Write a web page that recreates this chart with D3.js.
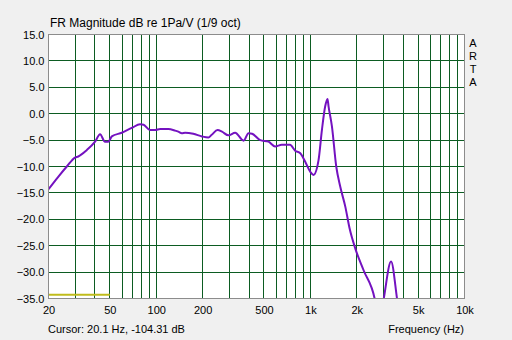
<!DOCTYPE html>
<html>
<head>
<meta charset="utf-8">
<script src="https://cdn.jsdelivr.net/npm/d3@7"></script>
<style>
  body { margin: 0; background: #f0f0f0; }
  svg { display: block; font-family: "Liberation Sans", Arial, sans-serif; }
  .tick text { fill: #000; font-size: 11px; }
</style>
</head>
<body>
<svg width="512" height="340"></svg>
<script>
// Measured response, 1/9 octave smoothing
const freqs = [20, 23.2, 26.3, 29.7, 31.2, 35.4, 40.1, 43.2, 46.5, 48.9, 51.5, 59.8, 69.4, 78.6, 82.8,
  91.2, 98.6, 106, 119.7, 132.6, 139, 146.6, 154, 174, 198, 218, 229, 250, 267, 294, 325, 369, 397,
  419, 473, 535, 590, 652, 738, 797, 860, 926, 998, 1048, 1130, 1188, 1248, 1292, 1312, 1380, 1472,
  1562, 1685, 1796, 1960, 2218, 2616, 2800, 2990, 3338, 3652, 3850];
const magDb = [-14.3, -11.9, -10.0, -8.3, -8.1, -6.9, -5.3, -3.9, -5.3, -5.3, -4.3, -3.6, -2.7, -2.0, -2.1,
  -3.1, -3.1, -2.9, -2.9, -3.2, -3.4, -3.7, -3.6, -3.8, -4.3, -4.5, -4.0, -3.1, -3.4, -4.1, -3.6, -5.1, -3.7,
  -3.8, -5.0, -5.3, -6.2, -5.9, -5.9, -7.0, -7.5, -9.1, -11.0, -11.6, -8.8, -3.1, 1.4, 2.8, 1.4, -2.4, -10.0,
  -13.8, -17.6, -21.7, -25.6, -29.7, -35.1, -40, -35.1, -28.0, -35.1, -40];

// Reference (yellow) trace
const refFreqs = [20, 50];
const refDb = [-34.3, -34.3];

const xTicks = [20, 50, 100, 200, 500, 1000, 2000, 5000, 10000];
const xTickLabels = ["20", "50", "100", "200", "500", "1k", "2k", "5k", "10k"];
const xGrid = [30, 40, 50, 60, 70, 80, 90, 100, 200, 300, 400, 500, 600, 700, 800, 900,
  1000, 2000, 3000, 4000, 5000, 6000, 7000, 8000, 9000];
const yTicks = [15, 10, 5, 0, -5, -10, -15, -20, -25, -30, -35];

const svg = d3.select("svg");

const x = d3.scaleLog().domain([20, 10000]).range([48.5, 464.5]);
const y = d3.scaleLinear().domain([-35, 15]).range([298.5, 34.5]);
const px = v => Math.round(v - 0.5) + 0.5;

// Plot background
svg.append("rect")
    .attr("x", x(20)).attr("y", y(15))
    .attr("width", x(10000) - x(20)).attr("height", y(-35) - y(15))
    .attr("fill", "#fff");

// Grid
const grid = svg.append("g").attr("stroke", "#0c5c22").attr("stroke-width", 1);
grid.selectAll(".vg").data(xGrid).enter().append("line")
    .attr("x1", d => px(x(d))).attr("x2", d => px(x(d)))
    .attr("y1", y(15)).attr("y2", y(-35));
grid.selectAll(".hg").data(yTicks.slice(1, -1)).enter().append("line")
    .attr("y1", d => px(y(d))).attr("y2", d => px(y(d)))
    .attr("x1", x(20)).attr("x2", x(10000));

// Clip for traces
svg.append("clipPath").attr("id", "plot")
  .append("rect")
    .attr("x", x(20)).attr("y", y(15))
    .attr("width", x(10000) - x(20)).attr("height", y(-35) - y(15));

const line = d3.line().x(d => x(d[0])).y(d => y(d[1]));

svg.append("path")
    .datum(d3.zip(refFreqs, refDb))
    .attr("clip-path", "url(#plot)")
    .attr("fill", "none")
    .attr("stroke", "#c0bc1c")
    .attr("stroke-width", 2)
    .attr("d", line);

svg.append("path")
    .datum(d3.zip(freqs, magDb))
    .attr("clip-path", "url(#plot)")
    .attr("fill", "none")
    .attr("stroke", "#7412c0")
    .attr("stroke-width", 2)
    .attr("stroke-linejoin", "round")
    .attr("d", line.curve(d3.curveMonotoneX));

// Frame
svg.append("rect")
    .attr("x", x(20)).attr("y", y(15))
    .attr("width", x(10000) - x(20)).attr("height", y(-35) - y(15))
    .attr("fill", "none")
    .attr("stroke", "#8c8c8c");

// Axes
svg.append("g")
    .attr("transform", `translate(${x(20) - 3}, 0)`)
    .call(d3.axisLeft(y).tickValues(yTicks).tickFormat(d3.format(".1f")).tickSize(0).tickPadding(1))
    .call(g => g.select(".domain").remove());

svg.append("g")
    .attr("transform", `translate(0, ${y(-35) + 4})`)
    .call(d3.axisBottom(x).tickValues(xTicks).tickFormat((d, i) => xTickLabels[i]).tickSize(0).tickPadding(4))
    .call(g => g.select(".domain").remove());

// Texts
svg.append("text")
    .attr("x", 50).attr("y", 27)
    .attr("font-size", 12)
    .text("FR Magnitude dB re 1Pa/V (1/9 oct)");

svg.append("text")
    .attr("x", 48).attr("y", 333)
    .attr("font-size", 11)
    .text("Cursor: 20.1 Hz, -104.31 dB");

svg.append("text")
    .attr("x", 464).attr("y", 333)
    .attr("text-anchor", "end")
    .attr("font-size", 11)
    .text("Frequency (Hz)");

svg.append("text")
    .attr("text-anchor", "middle")
    .attr("font-size", 11)
    .selectAll("tspan")
    .data(["A", "R", "T", "A"])
    .enter().append("tspan")
    .attr("x", 473)
    .attr("y", (d, i) => 47 + i * 13)
    .text(d => d);
</script>
</body>
</html>
